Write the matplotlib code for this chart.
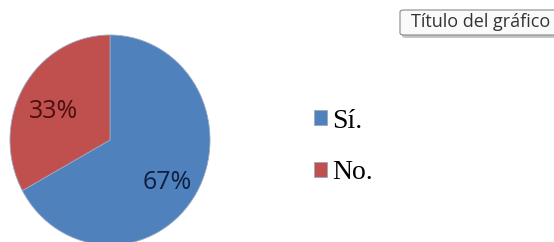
import matplotlib.pyplot as plt
from matplotlib.patches import FancyBboxPatch

labels = ["Sí.", "No."]
values = [67, 33]
colors = ["#4F81BD", "#C0504D"]
pct_colors = ["#0f1f3f", "#4a1010"]

W, H = 554, 242
fig = plt.figure(figsize=(W / 100, H / 100), dpi=100)
fig.patch.set_facecolor("white")

# pie axes (slightly taller than wide, like the source)
x0, x1 = 10, 210
ytop, ybot = 35, 245
ax = fig.add_axes([x0 / W, (H - ybot) / H, (x1 - x0) / W, (ybot - ytop) / H])

wedges, texts, autotexts = ax.pie(
    values, colors=colors, startangle=90, counterclock=False,
    autopct="%1.0f%%", pctdistance=0.66,
    wedgeprops=dict(edgecolor="#9aa8c0", linewidth=0.6),
    textprops=dict(fontsize=18, family="Open Sans"))
for t, c in zip(autotexts, pct_colors):
    t.set_color(c)
    px, py = t.get_position()
    t.set_position((px, py - 0.065))
ax.set_aspect("auto")
ax.set_xlim(-1.0, 1.0)
ax.set_ylim(-1.0, 1.0)
ax.axis("off")

fig.legend(wedges, labels, loc="center left",
           bbox_to_anchor=(289 / W, (H - 147) / H), frameon=False,
           handlelength=0.45, handleheight=0.45, handletextpad=0.2,
           labelspacing=0.95, prop=dict(family="Liberation Serif", size=20))

# tooltip-like title box with a soft shadow, cut off on the right edge
def px_box(left, top, w, h, **kw):
    return FancyBboxPatch((left / W, (H - top - h) / H), w / W, h / H,
                          boxstyle="round,pad=0,rounding_size=0.008",
                          transform=fig.transFigure, **kw)

fig.patches.append(px_box(402, 12, 170, 26, fc="#c4c4c4", ec="none"))
fig.patches.append(px_box(400, 10, 170, 25, fc="#fafafa", ec="#8a8a8a", lw=0.8))
fig.text(411 / W, (H - 22) / H, "Título del gráfico", fontsize=13,
         family="Open Sans", color="#333333", va="center", ha="left")

fig.savefig("out.png", dpi=100, facecolor="white")
